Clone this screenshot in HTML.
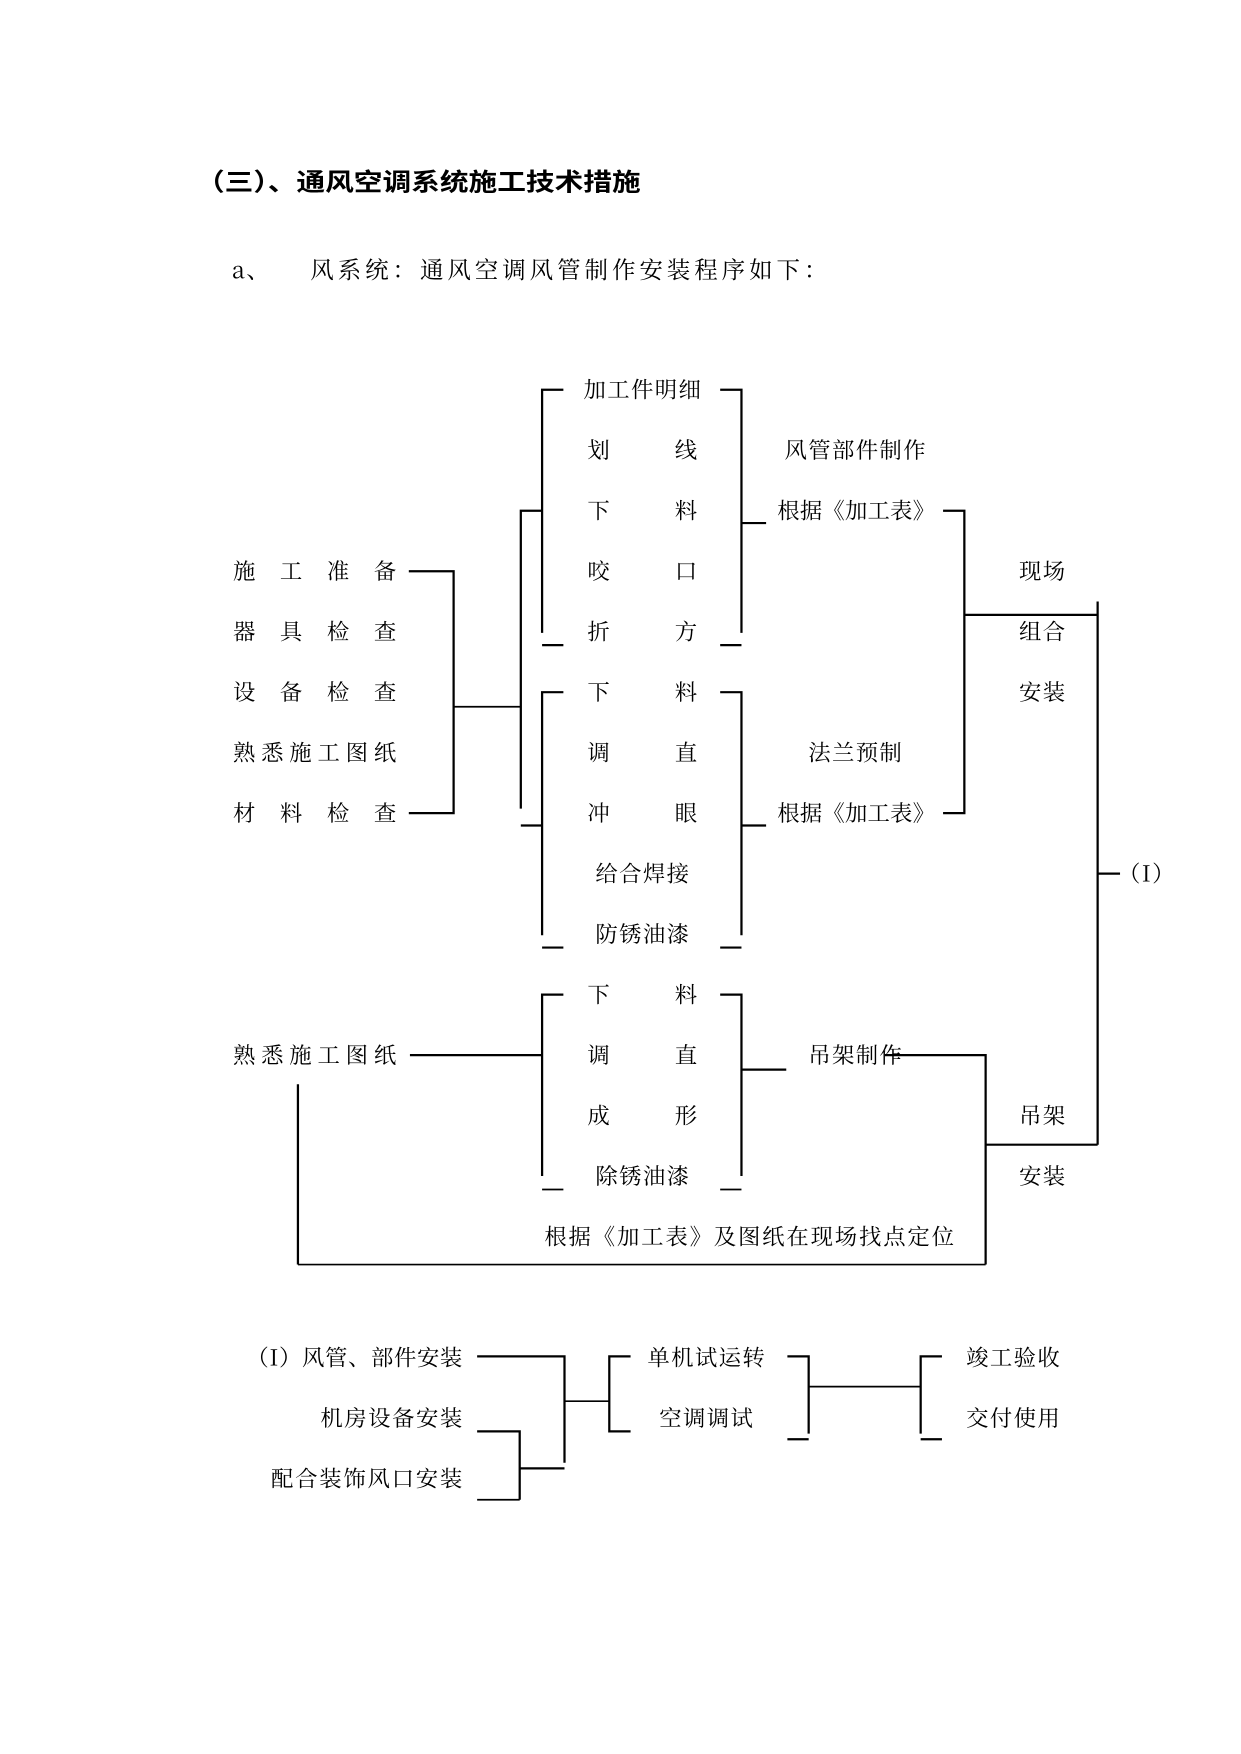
<!DOCTYPE html>
<html><head><meta charset="utf-8"><style>
html,body{margin:0;padding:0;background:#fff;}
svg{display:block;}
text{font-family:"Noto Serif CJK SC","Liberation Serif",serif;fill:#000;font-size:20px;letter-spacing:1.2px;}
.t{font-family:"Liberation Sans","Noto Sans CJK SC",sans-serif;font-weight:bold;font-size:22px;letter-spacing:0;}
</style></head><body>
<svg width="1241" height="1754" viewBox="0 0 1108 1566" preserveAspectRatio="none" xmlns="http://www.w3.org/2000/svg">
<g>
<text class="t" x="175" y="170" textLength="397" lengthAdjust="spacingAndGlyphs">（三）、通风空调系统施工技术措施</text>
<text x="207" y="248" style="font-size:21px">a、</text>
<text x="277" y="248" style="font-size:21px" textLength="463" lengthAdjust="spacing">风系统：通风空调风管制作安装程序如下：</text>
</g>
<g>
<text x="208" y="517" textLength="147" lengthAdjust="spacing">施工准备</text>
<text x="208" y="571" textLength="147" lengthAdjust="spacing">器具检查</text>
<text x="208" y="625" textLength="147" lengthAdjust="spacing">设备检查</text>
<text x="208" y="679" textLength="147" lengthAdjust="spacing">熟悉施工图纸</text>
<text x="208" y="733" textLength="147" lengthAdjust="spacing">材料检查</text>
<text x="208" y="949" textLength="147" lengthAdjust="spacing">熟悉施工图纸</text>
</g>
<g text-anchor="middle">
<text x="574" y="355">加工件明细</text>
<text x="535" y="409">划</text><text x="613" y="409">线</text>
<text x="535" y="463">下</text><text x="613" y="463">料</text>
<text x="535" y="517">咬</text><text x="613" y="517">口</text>
<text x="535" y="571">折</text><text x="613" y="571">方</text>
<text x="535" y="625">下</text><text x="613" y="625">料</text>
<text x="535" y="679">调</text><text x="613" y="679">直</text>
<text x="535" y="733">冲</text><text x="613" y="733">眼</text>
<text x="574" y="787">给合焊接</text>
<text x="574" y="841">防锈油漆</text>
<text x="535" y="895">下</text><text x="613" y="895">料</text>
<text x="535" y="949">调</text><text x="613" y="949">直</text>
<text x="535" y="1003">成</text><text x="613" y="1003">形</text>
<text x="574" y="1057">除锈油漆</text>
<text x="764" y="409">风管部件制作</text>
<text x="931" y="517">现场</text>
<text x="931" y="571">组合</text>
<text x="931" y="625">安装</text>
<text x="764" y="679">法兰预制</text>
<text x="764" y="949">吊架制作</text>
<text x="931" y="1003">吊架</text>
<text x="931" y="1057">安装</text>
<text x="1024" y="787">（I）</text>
<text x="631" y="1219">单机试运转</text>
<text x="631" y="1273">空调调试</text>
<text x="905" y="1219">竣工验收</text>
<text x="905" y="1273">交付使用</text>
</g>
<text x="694" y="463" textLength="142" lengthAdjust="spacing">根据《加工表》</text>
<text x="694" y="733" textLength="142" lengthAdjust="spacing">根据《加工表》</text>
<text x="486" y="1111" textLength="367" lengthAdjust="spacing">根据《加工表》及图纸在现场找点定位</text>
<text x="220" y="1219" textLength="194" lengthAdjust="spacing">（I）风管、部件安装</text>
<text x="286" y="1273" textLength="128" lengthAdjust="spacing">机房设备安装</text>
<text x="242" y="1327" textLength="172" lengthAdjust="spacing">配合装饰风口安装</text>
<g stroke="#000" stroke-width="2" fill="none">
<polyline points="365,510 405,510 405,726 365,726"/>
<line x1="405" y1="631" x2="465" y2="631" stroke-width="1.5"/>
<polyline points="484,456 465,456 465,722"/>
<line x1="465" y1="737" x2="484" y2="737"/>
<polyline points="503,348 484,348 484,565"/>
<line x1="484" y1="576" x2="503" y2="576"/>
<polyline points="643,348 662,348 662,565"/>
<line x1="643" y1="576" x2="662" y2="576"/>
<line x1="662" y1="467" x2="684" y2="467"/>
<polyline points="503,618 484,618 484,835"/>
<line x1="484" y1="846" x2="503" y2="846"/>
<polyline points="643,618 662,618 662,835"/>
<line x1="643" y1="846" x2="662" y2="846"/>
<line x1="662" y1="737" x2="684" y2="737"/>
<polyline points="842,456 861,456 861,726 842,726"/>
<line x1="861" y1="549" x2="980" y2="549"/>
<line x1="980" y1="537" x2="980" y2="1022"/>
<line x1="980" y1="780" x2="1000" y2="780"/>
<line x1="366" y1="942" x2="484" y2="942"/>
<polyline points="503,888 484,888 484,1050"/>
<line x1="484" y1="1062" x2="503" y2="1062" stroke-width="1.5"/>
<polyline points="643,888 662,888 662,1050"/>
<line x1="643" y1="1062" x2="662" y2="1062" stroke-width="1.5"/>
<line x1="662" y1="955" x2="702" y2="955"/>
<polyline points="790,942 880,942 880,1129"/>
<line x1="880" y1="1022" x2="980" y2="1022"/>
<line x1="266" y1="968" x2="266" y2="1129"/>
<line x1="266" y1="1129" x2="880" y2="1129" stroke-width="1.5"/>
<polyline points="426,1211 504,1211 504,1306"/>
<polyline points="426,1278 464,1278 464,1339"/>
<line x1="426" y1="1339" x2="464" y2="1339" stroke-width="1.5"/>
<line x1="464" y1="1311" x2="504" y2="1311"/>
<line x1="504" y1="1251" x2="544" y2="1251" stroke-width="1.5"/>
<polyline points="563,1211 544,1211 544,1278 563,1278"/>
<polyline points="703,1211 722,1211 722,1280"/>
<line x1="703" y1="1285" x2="722" y2="1285"/>
<line x1="722" y1="1238" x2="822" y2="1238" stroke-width="1.5"/>
<polyline points="841,1211 822,1211 822,1280"/>
<line x1="822" y1="1285" x2="841" y2="1285"/>
</g>
</svg>
</body></html>
